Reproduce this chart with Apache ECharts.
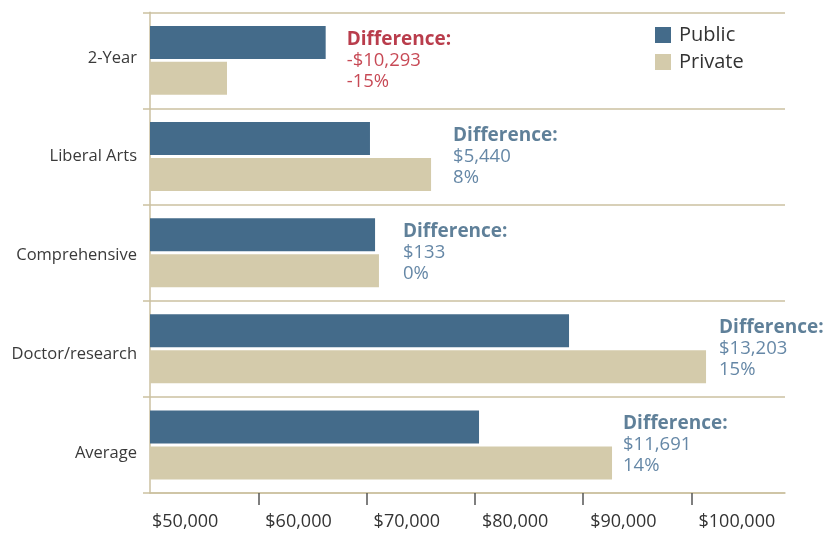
<!DOCTYPE html>
<html>
<head>
<meta charset="utf-8">
<script src="https://cdn.jsdelivr.net/npm/echarts@6/dist/echarts.min.js"></script>
<style>html,body{margin:0;padding:0;background:#fff}#c{width:837px;height:533px}</style>
</head>
<body>
<div id="c"></div>
<script>
// ---- data ----
const categories = ['2-Year', 'Liberal Arts', 'Comprehensive', 'Doctor/research', 'Average'];
const publicVals = [66220, 70310, 70780, 88690, 80380];
const privateVals = [57110, 75950, 71140, 101340, 92660];
const diffAmount = ['-$10,293', '$5,440', '$133', '$13,203', '$11,691'];
const diffPct = ['-15%', '8%', '0%', '15%', '14%'];
const xTickValues = [50000, 60000, 70000, 80000, 90000, 100000];

// ---- layout / style constants ----
const labelGap = [21, 22, 24, 13, 11];
const catLabelShift = [-2, 0, 3, 5.5, 8];
const FONT = '"Open Sans", "Noto Sans", sans-serif';
const BEIGE_LINE = '#cbc1a0';

const catRich = {};
catLabelShift.forEach((d, i) => {
  catRich['c' + i] = {
    fontSize: 16.5, color: '#3a3a3a', fontFamily: FONT,
    padding: d >= 0 ? [2 * d, 0, 0, 0] : [0, 0, -2 * d, 0]
  };
});

const annot = categories.map((c, i) => {
  const neg = diffAmount[i].startsWith('-');
  return {
    value: [Math.max(publicVals[i], privateVals[i]), c],
    label: {
      distance: labelGap[i],
      formatter: neg
        ? '{hr|Difference:}\n{vr|' + diffAmount[i] + '}\n{vr|' + diffPct[i] + '}'
        : '{hb|Difference:}\n{vb|' + diffAmount[i] + '}\n{vb|' + diffPct[i] + '}'
    }
  };
});

const chart = echarts.init(document.getElementById('c'));
chart.setOption({
  animation: false,
  textStyle: { fontFamily: FONT },
  grid: { left: 150, right: 52, top: 12.3, bottom: 40 },
  legend: {
    data: ['Public', 'Private'],
    orient: 'vertical',
    left: 655,
    top: 25,
    padding: 0,
    icon: 'rect',
    itemWidth: 16,
    itemHeight: 16,
    itemGap: 7,
    textStyle: { fontSize: 20, color: '#333', fontFamily: FONT, padding: [0, 0, 0, 3], lineHeight: 16 }
  },
  xAxis: {
    type: 'value',
    min: 50000,
    max: 108630,
    interval: 10000,
    axisLine: { show: true, lineStyle: { color: BEIGE_LINE, width: 1.5 } },
    axisTick: { show: true, length: 12, customValues: xTickValues.slice(1), lineStyle: { color: '#555', width: 1.5 } },
    splitLine: { show: false },
    axisLabel: {
      customValues: xTickValues,
      margin: 20,
      align: 'left',
      fontSize: 18,
      color: '#333',
      fontFamily: FONT,
      formatter: function (v) {
        const s = '$' + v.toLocaleString('en-US');
        return v === xTickValues[0] ? '{f|' + s + '}' : '{n|' + s + '}';
      },
      rich: {
        f: { fontSize: 18, color: '#333', fontFamily: FONT, padding: [0, 0, 0, 2] },
        n: { fontSize: 18, color: '#333', fontFamily: FONT, padding: [0, 0, 0, 7] }
      }
    }
  },
  yAxis: {
    type: 'category',
    inverse: true,
    data: categories,
    axisLine: { show: true, lineStyle: { color: BEIGE_LINE, width: 1.5 } },
    axisTick: { show: true, length: 7, lineStyle: { color: BEIGE_LINE, width: 1.5 } },
    splitLine: { show: true, lineStyle: { color: BEIGE_LINE, width: 1.5 } },
    axisLabel: {
      fontSize: 16.5, color: '#3a3a3a', margin: 13, fontFamily: FONT,
      formatter: function (v, i) { return '{c' + i + '|' + v + '}'; },
      rich: catRich
    }
  },
  series: [
    {
      name: 'Public', type: 'bar', data: publicVals,
      barWidth: 33, barGap: '9%',
      itemStyle: { color: '#446b8a' }
    },
    {
      name: 'Private', type: 'bar', data: privateVals,
      barWidth: 33, barGap: '9%',
      itemStyle: { color: '#d4cbab' }
    },
    {
      name: 'Difference', type: 'scatter', data: annot,
      symbolSize: 0, silent: true,
      label: {
        show: true, position: 'right',
        rich: {
          hr: { fontSize: 19, fontWeight: 'bold', color: '#a80d1f', lineHeight: 21, fontFamily: FONT },
          vr: { fontSize: 18.5, color: '#b91c2a', lineHeight: 21, fontFamily: FONT },
          hb: { fontSize: 19, fontWeight: 'bold', color: '#37607f', lineHeight: 21, fontFamily: FONT },
          vb: { fontSize: 18.5, color: '#3f6990', lineHeight: 21, fontFamily: FONT }
        }
      }
    }
  ]
});
</script>
</body>
</html>
